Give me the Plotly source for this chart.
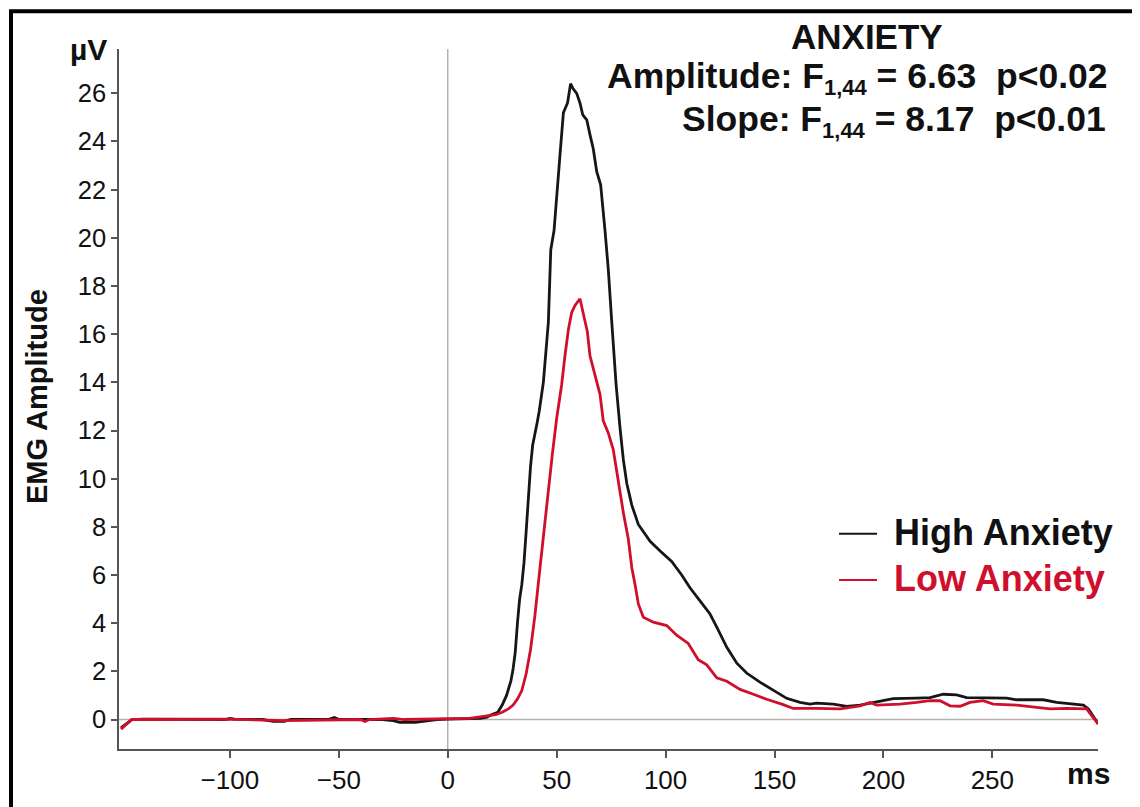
import plotly.graph_objects as go

# ---- data (time in ms, amplitude in µV) ----
high_t = [-150, -147, -145, -140, -120, -102, -100, -98, -85, -80, -75, -72, -55, -52, -50, -30, -25, -22, -15, -10, -5, 0, 10, 15, 18, 20, 23, 25, 27, 29, 30, 31, 32, 33, 34, 35, 36, 37, 38, 39, 40, 41, 42, 43.9, 46.2, 47.3, 48.8, 50.3, 51.5, 53.1, 55, 56.4, 57.5, 59.2, 60.7, 62, 63.8, 65.5, 66.8, 68.4, 70.2, 72.2, 73.7, 75.3, 77.3, 79.1, 80.6, 82.2, 84.5, 87.5, 92.9, 97.5, 102.8, 107.4, 111.2, 115.8, 120.4, 123.5, 128.1, 132.7, 137.2, 143.3, 149.5, 155.6, 161.7, 166.3, 169.4, 177.0, 183.2, 189.3, 196.9, 204.5, 215.3, 221.4, 227.5, 233.6, 238.2, 245.8, 256.6, 261.2, 273.4, 279.5, 291.8, 294.1, 296.4, 298.6]
high_v = [-0.35, -0.15, 0.0, 0.02, 0.0, 0.0, 0.05, 0.02, 0.0, -0.08, -0.08, 0.0, 0.0, 0.08, 0.0, 0.0, -0.05, -0.12, -0.12, -0.05, 0.0, 0.02, 0.02, 0.05, 0.1, 0.2, 0.3, 0.6, 1.0, 1.6, 2.1, 2.8, 4.0, 5.0, 5.6, 6.5, 7.8, 9.2, 10.5, 11.4, 11.8, 12.3, 12.8, 14.0, 16.5, 19.5, 20.3, 22.2, 23.4, 25.2, 25.6, 26.4, 26.2, 26.0, 25.6, 25.1, 24.9, 24.2, 23.7, 22.75, 22.2, 20.3, 18.7, 16.5, 13.9, 12.1, 10.8, 9.8, 8.9, 8.1, 7.4, 7.0, 6.56, 6.0, 5.47, 4.93, 4.38, 3.84, 3.0, 2.34, 1.93, 1.55, 1.2, 0.88, 0.71, 0.64, 0.68, 0.64, 0.55, 0.6, 0.73, 0.87, 0.89, 0.91, 1.05, 1.02, 0.91, 0.91, 0.89, 0.82, 0.82, 0.71, 0.6, 0.44, 0.1, -0.18]

low_t = [-150, -145, -100, -80, -75, -40, -38, -36, -25, -20, 0, 10, 14, 18, 22, 25, 28, 30, 32, 34, 36, 38, 40, 42, 44, 46, 48, 50, 52.3, 53.8, 55.4, 56.9, 58.5, 60.7, 62.2, 64.1, 65.3, 67.6, 69.9, 71.4, 73.7, 76.0, 78.3, 80.6, 82.9, 84.5, 86.0, 87.5, 89.8, 94.4, 100.5, 105.1, 110.4, 115.0, 118.9, 123.5, 128.1, 134.2, 140.3, 146.4, 154.0, 158.6, 169.4, 180.1, 189.3, 193.8, 196.9, 207.6, 215.3, 221.4, 226.0, 230.6, 235.2, 239.7, 245.8, 250.4, 261.2, 268.8, 276.5, 284.1, 293.3, 295.6, 298.6]
low_v = [-0.4, 0.0, 0.02, -0.05, -0.05, 0.0, -0.08, 0.0, 0.05, 0.0, 0.05, 0.05, 0.1, 0.15, 0.2, 0.3, 0.45, 0.6, 0.85, 1.2, 1.9, 2.9, 4.3, 6.0, 7.7, 9.4, 11.0, 12.5, 13.9, 15.1, 16.2, 16.9, 17.2, 17.47, 16.9, 16.1, 15.1, 14.3, 13.5, 12.4, 11.9, 11.2, 9.8, 8.6, 7.5, 6.3, 5.6, 4.8, 4.25, 4.04, 3.9, 3.5, 3.16, 2.48, 2.27, 1.73, 1.59, 1.25, 1.05, 0.84, 0.62, 0.46, 0.46, 0.44, 0.57, 0.71, 0.6, 0.64, 0.71, 0.78, 0.78, 0.57, 0.55, 0.71, 0.78, 0.64, 0.6, 0.51, 0.44, 0.46, 0.44, 0.16, -0.18]

series_names = ["High Anxiety", "Low Anxiety"]
x_ticks = [-100, -50, 0, 50, 100, 150, 200, 250]
y_ticks = list(range(0, 27, 2))

BLACK = "#161616"
RED = "#cf0f2c"
FONT = "Liberation Sans, Arial, sans-serif"

# the page body adds an 8px margin; size the figure to fill the rest of the window
OFF = 8
W, H = 1140 - OFF, 807 - OFF
ML, MR, MT, MB = 111, 42, 41, 46
PW, PH = W - ML - MR, H - MT - MB


def xp(px):
    """window pixel x -> paper x"""
    return (px - OFF - ML) / PW


def yp(py):
    """window pixel y -> paper y"""
    return (H - MB - (py - OFF)) / PH


fig = go.Figure()
fig.add_trace(go.Scatter(x=high_t, y=high_v, mode="lines", name=series_names[0],
                         line=dict(color=BLACK, width=2.8), showlegend=False))
fig.add_trace(go.Scatter(x=low_t, y=low_v, mode="lines", name=series_names[1],
                         line=dict(color=RED, width=2.8), showlegend=False))

shapes = [
    dict(type="line", xref="x", yref="paper", x0=0, x1=0, y0=0, y1=1,
         line=dict(color="#b0b0b0", width=1.5), layer="below"),
    dict(type="line", xref="paper", yref="y", x0=0, x1=1, y0=0, y1=0,
         line=dict(color="#b5b0aa", width=1.5), layer="below"),
    dict(type="path", xref="paper", yref="paper",
         path=f"M {xp(11)},{yp(830)} L {xp(11)},{yp(10.5)} L {xp(1160)},{yp(10.5)}",
         line=dict(color="black", width=4)),
    dict(type="line", xref="paper", yref="paper", x0=xp(839), x1=xp(877), y0=yp(542), y1=yp(542),
         line=dict(color=BLACK, width=2)),
    dict(type="line", xref="paper", yref="paper", x0=xp(839), x1=xp(877), y0=yp(589), y1=yp(589),
         line=dict(color=RED, width=2)),
]

SUB = "<sub><span style='font-size:22px'>1,44</span></sub>"

annotations = [
    dict(text="<b>µV</b>", x=xp(109), y=yp(49), xref="paper", yref="paper",
         xanchor="right", yanchor="middle", showarrow=False,
         font=dict(size=30, color="#111", family=FONT)),
    dict(text="<b>ms</b>", x=xp(1088), y=yp(786), xref="paper", yref="paper",
         xanchor="center", yanchor="middle", showarrow=False,
         font=dict(size=30, color="#111", family=FONT)),
    dict(text="<b>EMG Amplitude</b>", x=xp(37), y=yp(403), xref="paper", yref="paper",
         xanchor="center", yanchor="middle", showarrow=False, textangle=-90,
         font=dict(size=29, color="#111", family=FONT)),
    dict(text="<b>ANXIETY</b>", x=xp(867), y=yp(36), xref="paper", yref="paper",
         xanchor="center", yanchor="middle", showarrow=False,
         font=dict(size=35, color="#111", family=FONT)),
    dict(text=f"<b>Amplitude: F{SUB} = 6.63  p&lt;0.02</b>", x=xp(1110), y=yp(79),
         xref="paper", yref="paper", xanchor="right", yanchor="middle", showarrow=False,
         font=dict(size=35.5, color="#111", family=FONT)),
    dict(text=f"<b>Slope: F{SUB} = 8.17  p&lt;0.01</b>", x=xp(1108), y=yp(122),
         xref="paper", yref="paper", xanchor="right", yanchor="middle", showarrow=False,
         font=dict(size=35.5, color="#111", family=FONT)),
    dict(text=f"<b>{series_names[0]}</b>", x=xp(892), y=yp(541), xref="paper", yref="paper",
         xanchor="left", yanchor="middle", showarrow=False,
         font=dict(size=36, color="#111", family=FONT)),
    dict(text=f"<b>{series_names[1]}</b>", x=xp(892), y=yp(588), xref="paper", yref="paper",
         xanchor="left", yanchor="middle", showarrow=False,
         font=dict(size=36, color=RED, family=FONT)),
]

fig.update_layout(
    width=W, height=H,
    margin=dict(l=ML, r=MR, t=MT, b=MB, pad=0),
    paper_bgcolor="white", plot_bgcolor="white",
    font=dict(family=FONT, color="#111"),
    shapes=shapes, annotations=annotations,
    xaxis=dict(range=[-150.9, 298.5], tickvals=x_ticks, showgrid=False, zeroline=False,
               showline=True, linecolor="#555", linewidth=1.5,
               ticks="outside", ticklen=7, tickwidth=1.5, tickcolor="#555",
               tickfont=dict(size=26, color="#111", family=FONT)),
    yaxis=dict(range=[-1.224, 27.84], tickvals=y_ticks, showgrid=False, zeroline=False,
               showline=True, linecolor="#555", linewidth=1.5,
               ticks="outside", ticklen=6, tickwidth=1.5, tickcolor="#555",
               tickfont=dict(size=25.5, color="#111", family=FONT)),
    showlegend=False,
)

fig.write_html("out.html")
